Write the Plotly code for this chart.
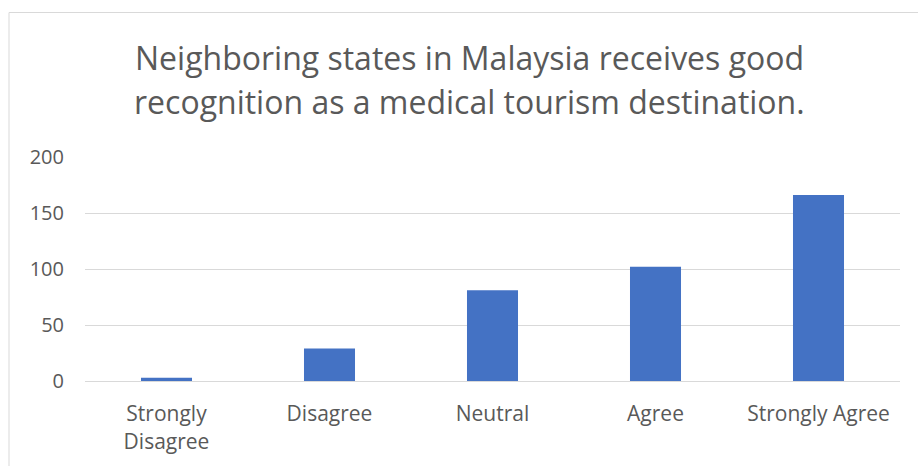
import plotly.graph_objects as go

# Survey responses
categories = ["Strongly<br>Disagree", "Disagree", "Neutral", "Agree", "Strongly Agree"]
counts = [3, 29, 81, 102, 166]
y_ticks = [0, 50, 100, 150, 200]
title_lines = [
    "Neighboring states in Malaysia receives good",
    "recognition as a medical tourism destination.",
]

W, H = 918, 466
ML, MR, MT, MB = 85, 18, 157, 85
plot_w = W - ML - MR
plot_h = H - MT - MB

TEXT = "#595959"
GRID = "#d9d9d9"
FONT = "Open Sans"

fig = go.Figure(
    go.Bar(
        x=categories,
        y=counts,
        marker=dict(color="#4472C4", line=dict(width=0)),
        hoverinfo="x+y",
    )
)

annotations = []
for line, ypx in zip(title_lines, [57, 101]):
    annotations.append(
        dict(
            text=line,
            xref="paper",
            yref="paper",
            x=(469 - ML) / plot_w,
            y=(H - MB - ypx) / plot_h,
            xanchor="center",
            yanchor="middle",
            showarrow=False,
            font=dict(family=FONT, size=32, color=TEXT),
        )
    )

fig.update_layout(
    width=W,
    height=H,
    margin=dict(l=ML, r=MR, t=MT, b=MB, pad=0),
    paper_bgcolor="white",
    plot_bgcolor="white",
    bargap=0.687,
    showlegend=False,
    font=dict(family=FONT, size=20, color=TEXT),
    annotations=annotations,
    shapes=[
        dict(
            type="rect",
            xref="paper",
            yref="paper",
            x0=(9 - ML) / plot_w,
            x1=1.3,
            y0=-0.6,
            y1=(H - MB - 12.5) / plot_h,
            line=dict(color=GRID, width=1),
            fillcolor="rgba(0,0,0,0)",
            layer="below",
        )
    ],
)

fig.update_xaxes(
    showline=True,
    linecolor=GRID,
    linewidth=1,
    showgrid=False,
    ticks="",
    ticklabelstandoff=14,
    tickfont=dict(family=FONT, size=21, color=TEXT),
)
fig.update_yaxes(
    range=[0, 200],
    tickvals=y_ticks,
    showgrid=True,
    gridcolor=GRID,
    gridwidth=1,
    zeroline=False,
    showline=False,
    ticks="",
    ticklabelstandoff=20,
    tickfont=dict(family=FONT, size=20, color=TEXT),
)

fig.write_html("out.html")
